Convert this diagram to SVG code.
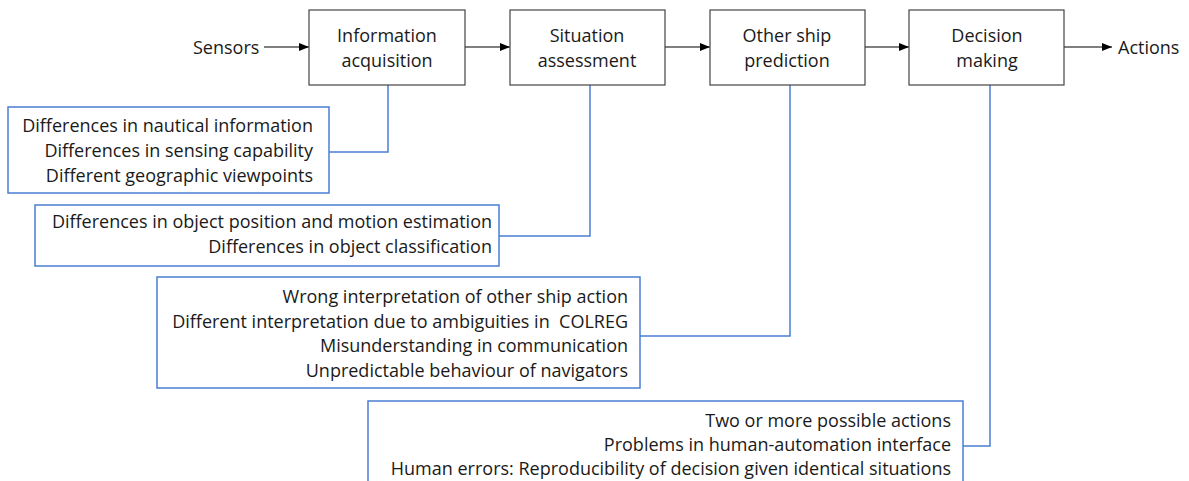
<svg xmlns="http://www.w3.org/2000/svg" width="1189" height="481" viewBox="0 0 1189 481">
<defs>
<style>
.stage{fill:#fff;stroke:#444;stroke-width:1.2}
.issue{fill:#fff;stroke:#4a7fd4;stroke-width:1.5}
.blue{fill:none;stroke:#4a7fd4;stroke-width:1.5}
.flow{fill:none;stroke:#000;stroke-width:1.2;marker-end:url(#ah)}
text{font-family:"Open Sans","Liberation Sans",Arial,sans-serif;font-size:18px;fill:#1a1a1a;white-space:pre}
.c{text-anchor:middle}
.r{text-anchor:end}
</style>
<marker id="ah" markerWidth="10" markerHeight="8" refX="10" refY="4" orient="auto" markerUnits="userSpaceOnUse">
<path d="M0,0 L10,4 L0,8 Z" fill="#000"/>
</marker>
</defs>
<rect width="1189" height="481" fill="#fff"/>
<g id="connectors">
<line class="flow" x1="264" y1="47" x2="309" y2="47"/>
<line class="flow" x1="465" y1="47" x2="510" y2="47"/>
<line class="flow" x1="665" y1="47" x2="710" y2="47"/>
<line class="flow" x1="865" y1="47" x2="909" y2="47"/>
<line class="flow" x1="1064" y1="47" x2="1112" y2="47"/>
<polyline class="blue" points="388,85 388,152 329,152"/>
<polyline class="blue" points="590,85 590,236 499,236"/>
<polyline class="blue" points="790,85 790,336 640,336"/>
<polyline class="blue" points="990,85 990,446 963,446"/>
</g>
<g id="sensors"><text x="193" y="54">Sensors</text></g>
<g id="actions"><text x="1118" y="54">Actions</text></g>
<g id="info-acq"><rect class="stage" x="309" y="10" width="156" height="75"/><text class="c" x="387" y="42">Information</text><text class="c" x="387" y="67">acquisition</text></g>
<g id="sit-assess"><rect class="stage" x="510" y="10" width="155" height="75"/><text class="c" x="587" y="42">Situation</text><text class="c" x="587" y="67">assessment</text></g>
<g id="other-ship"><rect class="stage" x="710" y="10" width="155" height="75"/><text class="c" x="787" y="42">Other ship</text><text class="c" x="787" y="67">prediction</text></g>
<g id="decision"><rect class="stage" x="909" y="10" width="155" height="75"/><text class="c" x="987" y="42">Decision</text><text class="c" x="987" y="67">making</text></g>
<g id="issues-info"><rect class="issue" x="8" y="107" width="321" height="86"/>
<text class="r" x="313" y="132">Differences in nautical information</text>
<text class="r" x="313" y="157">Differences in sensing capability</text>
<text class="r" x="313" y="182">Different geographic viewpoints</text></g>
<g id="issues-sit"><rect class="issue" x="35" y="205" width="464" height="61"/>
<text class="r" x="492" y="228">Differences in object position and motion estimation</text>
<text class="r" x="492" y="253">Differences in object classification</text></g>
<g id="issues-pred"><rect class="issue" x="157" y="277" width="483" height="111"/>
<text class="r" x="628" y="303">Wrong interpretation of other ship action</text>
<text class="r" x="628" y="328" xml:space="preserve">Different interpretation due to ambiguities in  COLREG</text>
<text class="r" x="628" y="352">Misunderstanding in communication</text>
<text class="r" x="628" y="377">Unpredictable behaviour of navigators</text></g>
<g id="issues-dec"><rect class="issue" x="368" y="401" width="595" height="90"/>
<text class="r" x="951" y="427">Two or more possible actions</text>
<text class="r" x="951" y="451">Problems in human-automation interface</text>
<text class="r" x="951" y="475">Human errors: Reproducibility of decision given identical situations</text></g>
</svg>
